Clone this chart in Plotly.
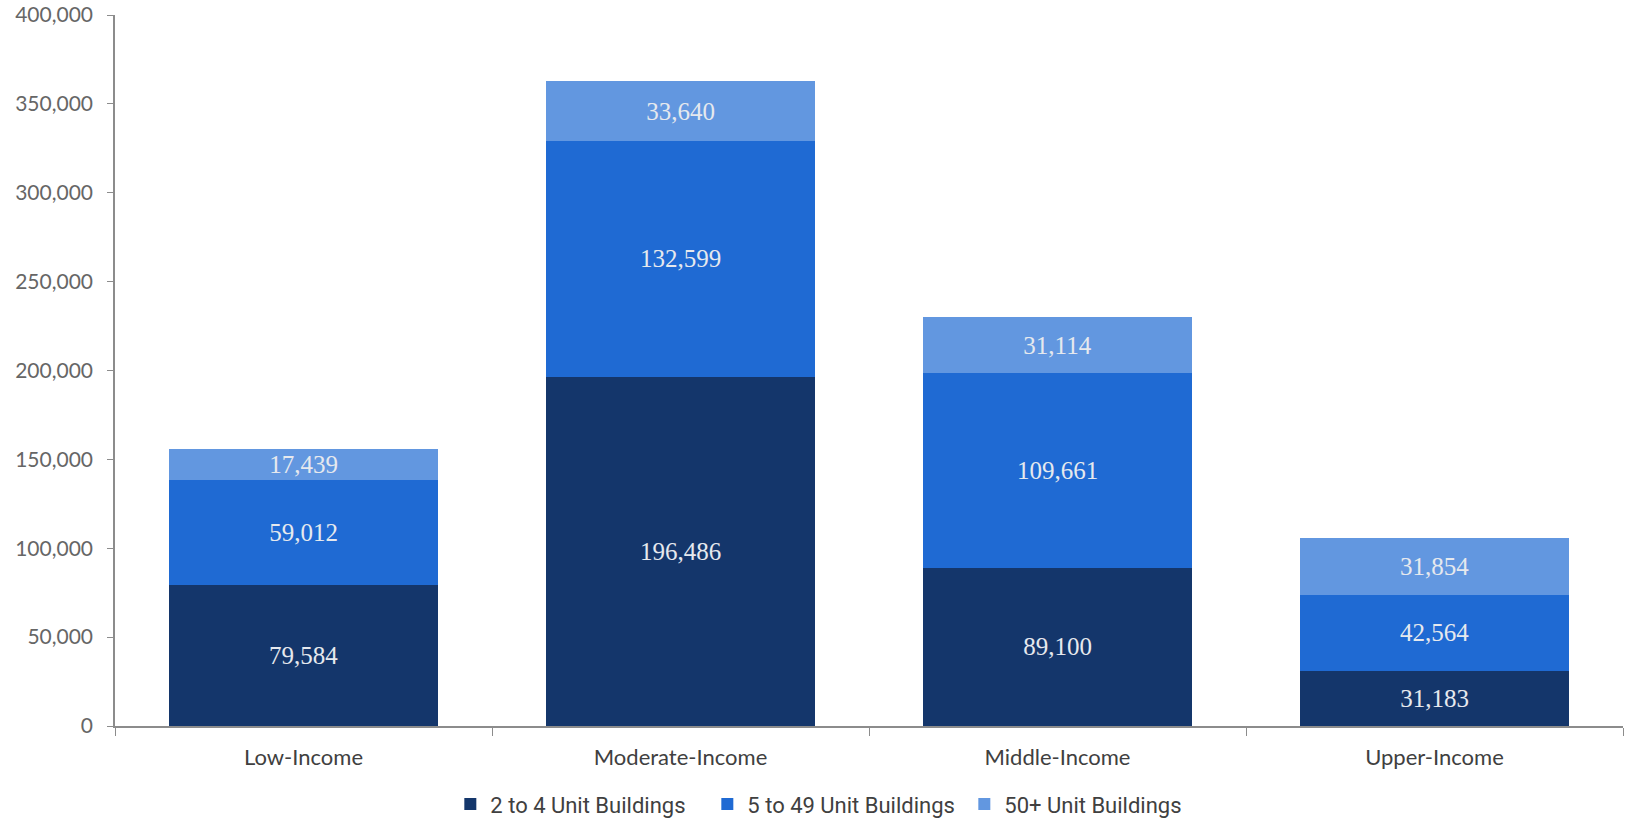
import plotly.graph_objects as go

categories = ["Low-Income", "Moderate-Income", "Middle-Income", "Upper-Income"]
units_2_to_4 = [79584, 196486, 89100, 31183]
units_5_to_49 = [59012, 132599, 109661, 42564]
units_50_plus = [17439, 33640, 31114, 31854]
series_names = ["2 to 4 Unit Buildings", "5 to 49 Unit Buildings", "50+ Unit Buildings"]
series_colors = ["#14366b", "#1f6ad3", "#6297e0"]
y_ticks = [0, 50000, 100000, 150000, 200000, 250000, 300000, 350000, 400000]

fig = go.Figure()
for name, vals, color in zip(series_names, [units_2_to_4, units_5_to_49, units_50_plus], series_colors):
    fig.add_trace(go.Bar(
        x=categories, y=vals, name=name,
        marker=dict(color=color, line=dict(width=0)),
        text=[f"{v:,}" for v in vals],
        textposition="inside", insidetextanchor="middle",
        textangle=0,
        textfont=dict(family="Liberation Serif, DejaVu Serif, serif", size=25, color="#e6e9ee"),
        constraintext="none",
    ))

fig.update_layout(
    barmode="stack",
    bargap=0.285,
    width=1627, height=822,
    margin=dict(l=115, r=4, t=15, b=96, autoexpand=False),
    plot_bgcolor="white", paper_bgcolor="white",
    uniformtext=dict(mode=False),
    legend=dict(
        orientation="h", x=0.478, xanchor="center", y=-0.11, yanchor="middle",
        font=dict(family="Roboto, Lato, sans-serif", size=22, color="#404040"),
        itemwidth=30, traceorder="normal",
        entrywidth=212, entrywidthmode="pixels",
    ),
    xaxis=dict(
        showline=True, linecolor="#8c8c8c", linewidth=1.5,
        ticks="outside", tickson="boundaries", ticklen=8, tickcolor="#8c8c8c",
        ticklabelstandoff=11, automargin=False,
        tickfont=dict(family="Lato, Open Sans, sans-serif", size=22, color="#404040"),
        showgrid=False,
    ),
    yaxis=dict(
        range=[0, 400000], tickvals=y_ticks,
        ticktext=[f"{v:,}" for v in y_ticks],
        showline=True, linecolor="#8c8c8c", linewidth=1.5,
        ticks="outside", ticklen=6, tickcolor="#8c8c8c",
        ticklabelstandoff=10, automargin=False,
        tickfont=dict(family="Lato, Open Sans, sans-serif", size=21, color="#666666"),
        showgrid=False, zeroline=False,
    ),
)

fig.write_html("out.html")
